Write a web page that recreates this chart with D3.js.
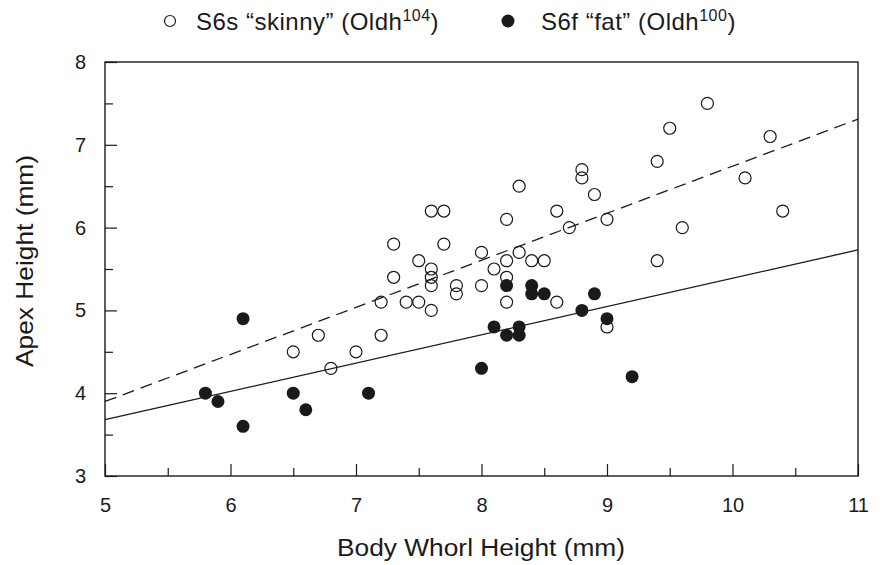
<!DOCTYPE html>
<html>
<head>
<meta charset="utf-8">
<script src="https://cdn.jsdelivr.net/npm/d3@7"></script>
<style>
  html, body { margin: 0; padding: 0; background: #fff; }
  svg { display: block; font-family: "Liberation Sans", Arial, Helvetica, sans-serif; }
</style>
</head>
<body>
<svg id="chart" width="880" height="565"></svg>
<script>
// ---- data ----
const skinnyX = [6.5, 6.7, 6.8, 7.0, 7.2, 7.2, 7.3, 7.3, 7.4, 7.5, 7.5, 7.6, 7.7, 7.6, 7.6, 7.6, 7.6, 7.7, 7.8, 7.8,
                 8.0, 8.0, 8.1, 8.2, 8.2, 8.2, 8.2, 8.3, 8.3, 8.4, 8.5, 8.6, 8.6, 8.7, 8.8, 8.8, 8.9, 9.0, 9.0,
                 9.4, 9.4, 9.5, 9.6, 9.8, 10.1, 10.3, 10.4];
const skinnyY = [4.5, 4.7, 4.3, 4.5, 4.7, 5.1, 5.4, 5.8, 5.1, 5.1, 5.6, 6.2, 6.2, 5.5, 5.4, 5.3, 5.0, 5.8, 5.3, 5.2,
                 5.7, 5.3, 5.5, 6.1, 5.6, 5.4, 5.1, 5.7, 6.5, 5.6, 5.6, 6.2, 5.1, 6.0, 6.7, 6.6, 6.4, 6.1, 4.8,
                 6.8, 5.6, 7.2, 6.0, 7.5, 6.6, 7.1, 6.2];
const fatX = [5.8, 5.9, 6.1, 6.1, 6.5, 6.6, 7.1, 8.0, 8.1, 8.2, 8.2, 8.3, 8.3, 8.4, 8.4, 8.5, 8.8, 8.9, 9.0, 9.2];
const fatY = [4.0, 3.9, 4.9, 3.6, 4.0, 3.8, 4.0, 4.3, 4.8, 5.3, 4.7, 4.8, 4.7, 5.3, 5.2, 5.2, 5.0, 5.2, 4.9, 4.2];
// regression lines: [x0, x1] and [y0, y1]
const lineX = [5, 11];
const skinnyFitY = [3.90, 7.31];
const fatFitY = [3.68, 5.73];
const xTicks = [5, 6, 7, 8, 9, 10, 11];
const yTicks = [3, 4, 5, 6, 7, 8];

// ---- layout ----
const svg = d3.select("#chart");
const mL = 105, mR = 858, mT = 62, mB = 476;
const x = d3.scaleLinear().domain([5, 11]).range([mL, mR]);
const y = d3.scaleLinear().domain([3, 8]).range([mB, mT]);
const ink = "#1a1a1a";

// frame
svg.append("rect").attr("x", mL).attr("y", mT)
  .attr("width", mR - mL).attr("height", mB - mT)
  .attr("fill", "none").attr("stroke", ink).attr("stroke-width", 1.4);

const halfX = d3.range(5.5, 11, 1);
const halfY = d3.range(3.5, 8, 1);

// x axis
const gx = svg.append("g").attr("transform", `translate(0,${mB})`);
gx.call(d3.axisBottom(x).tickValues(xTicks).tickSize(0).tickPadding(22).tickFormat(d3.format("d")));
gx.append("g").call(d3.axisBottom(x).tickValues(xTicks).tickSize(-12).tickFormat(""));
gx.append("g").call(d3.axisBottom(x).tickValues(halfX).tickSize(-8).tickFormat(""));
// y axis
const gy = svg.append("g").attr("transform", `translate(${mL},0)`);
gy.call(d3.axisLeft(y).tickValues(yTicks).tickSize(0).tickPadding(19).tickFormat(d3.format("d")));
gy.append("g").call(d3.axisLeft(y).tickValues(yTicks).tickSize(-12).tickFormat(""));
gy.append("g").call(d3.axisLeft(y).tickValues(halfY).tickSize(-8).tickFormat(""));

svg.selectAll(".domain").remove();
svg.selectAll(".tick line").attr("stroke", ink).attr("stroke-width", 1.2);
svg.selectAll(".tick text").attr("fill", ink).style("font-size", "20px")
  .style("font-family", '"Liberation Sans", Arial, sans-serif');

// regression lines
const line = d3.line().x(d => x(d[0])).y(d => y(d[1]));
svg.append("path").datum(d3.zip(lineX, skinnyFitY)).attr("d", line)
  .attr("fill", "none").attr("stroke", ink).attr("stroke-width", 1.3).attr("stroke-dasharray", "12,7");
svg.append("path").datum(d3.zip(lineX, fatFitY)).attr("d", line)
  .attr("fill", "none").attr("stroke", ink).attr("stroke-width", 1.3);

// points
svg.append("g").selectAll("circle").data(d3.zip(skinnyX, skinnyY)).join("circle")
  .attr("cx", d => x(d[0])).attr("cy", d => y(d[1])).attr("r", 6)
  .attr("fill", "none").attr("stroke", ink).attr("stroke-width", 1.2);
svg.append("g").selectAll("circle").data(d3.zip(fatX, fatY)).join("circle")
  .attr("cx", d => x(d[0])).attr("cy", d => y(d[1])).attr("r", 6.5)
  .attr("fill", ink).attr("stroke", "none");

// axis titles
svg.append("text").attr("x", 337).attr("y", 556)
  .attr("textLength", 288).attr("lengthAdjust", "spacingAndGlyphs")
  .attr("fill", ink).style("font-size", "23px")
  .text("Body Whorl Height (mm)");
svg.append("text").attr("transform", `translate(33,367) rotate(-90)`)
  .attr("textLength", 212).attr("lengthAdjust", "spacingAndGlyphs")
  .attr("fill", ink).style("font-size", "24px")
  .text("Apex Height (mm)");

// legend
const legend = svg.append("g");
legend.append("circle").attr("cx", 170).attr("cy", 21).attr("r", 5.5)
  .attr("fill", "none").attr("stroke", ink).attr("stroke-width", 1.2);
const t1 = legend.append("text").attr("x", 196).attr("y", 30).attr("fill", ink)
  .style("font-size", "24px").style("letter-spacing", "0.5px");
t1.append("tspan").text("S6s \u201Cskinny\u201D (Oldh");
t1.append("tspan").attr("dy", -9).style("font-size", "16px").text("104");
t1.append("tspan").attr("dy", 9).text(")");
legend.append("circle").attr("cx", 508).attr("cy", 21).attr("r", 6.5).attr("fill", ink);
const t2 = legend.append("text").attr("x", 541).attr("y", 30).attr("fill", ink)
  .style("font-size", "24px").style("letter-spacing", "0.5px");
t2.append("tspan").text("S6f \u201Cfat\u201D (Oldh");
t2.append("tspan").attr("dy", -9).style("font-size", "16px").text("100");
t2.append("tspan").attr("dy", 9).text(")");
</script>
</body>
</html>
